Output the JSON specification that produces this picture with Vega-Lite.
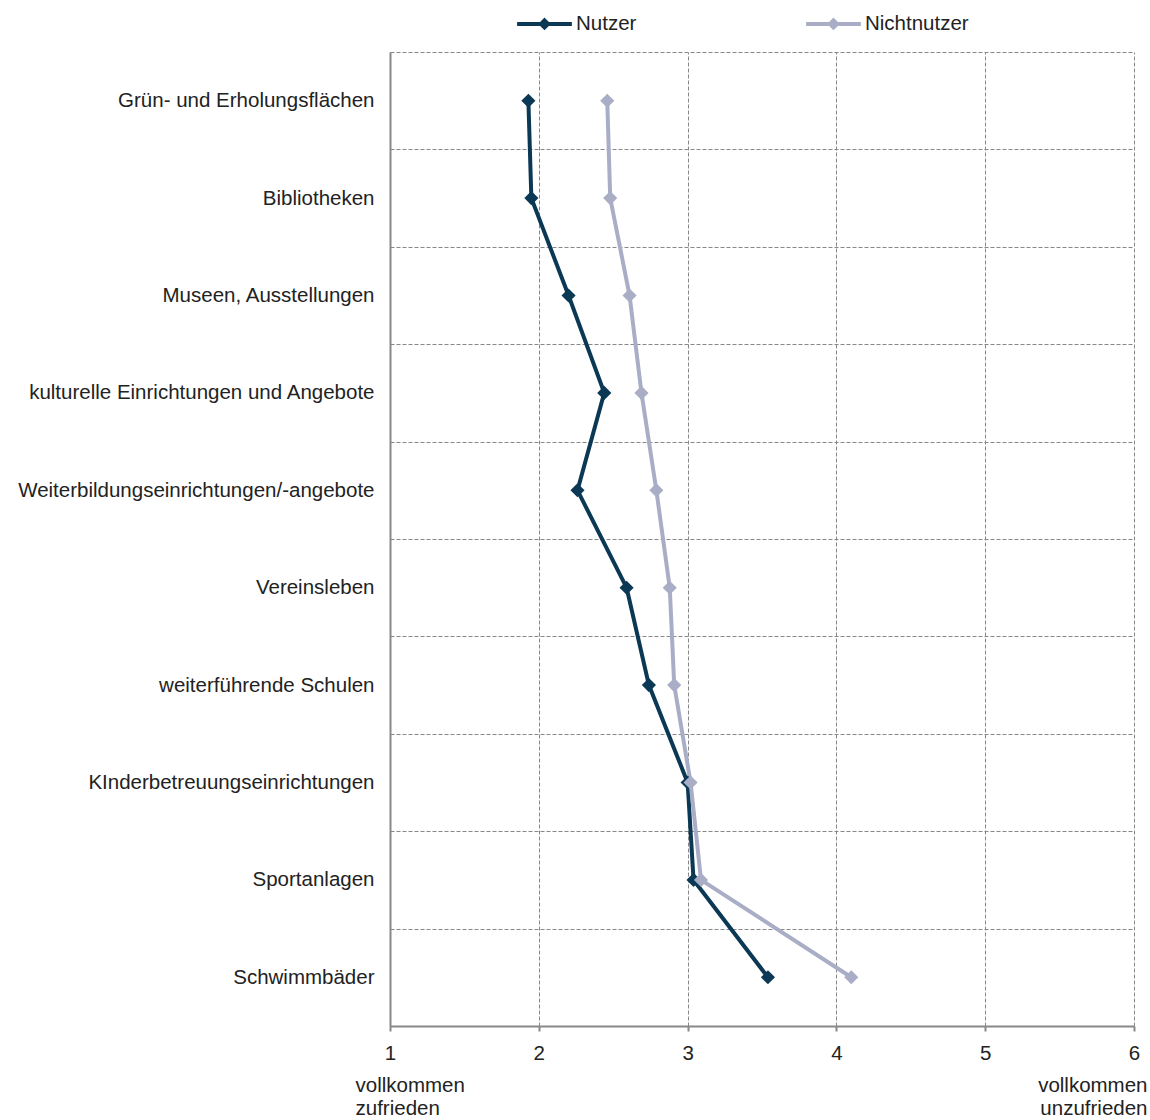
{
  "$schema": "https://vega.github.io/schema/vega-lite/v6.json",
  "autosize": "none",
  "width": 744,
  "height": 974,
  "padding": {"left": 390, "top": 52, "right": 16, "bottom": 94},
  "background": "white",
  "config": {
    "view": {"stroke": null},
    "font": "Liberation Sans",
    "axis": {"labelFont": "Liberation Sans", "labelFontSize": 20.5, "labelColor": "#222222", "titleFontSize": 20}
  },
  "data": {
    "values": [
      {"cat": "Grün- und Erholungsflächen", "i": 1, "group": "Nutzer", "value": 1.93},
      {"cat": "Bibliotheken", "i": 2, "group": "Nutzer", "value": 1.95},
      {"cat": "Museen, Ausstellungen", "i": 3, "group": "Nutzer", "value": 2.2},
      {"cat": "kulturelle Einrichtungen und Angebote", "i": 4, "group": "Nutzer", "value": 2.44},
      {"cat": "Weiterbildungseinrichtungen/-angebote", "i": 5, "group": "Nutzer", "value": 2.26},
      {"cat": "Vereinsleben", "i": 6, "group": "Nutzer", "value": 2.59},
      {"cat": "weiterführende Schulen", "i": 7, "group": "Nutzer", "value": 2.74},
      {"cat": "KInderbetreuungseinrichtungen", "i": 8, "group": "Nutzer", "value": 3.0},
      {"cat": "Sportanlagen", "i": 9, "group": "Nutzer", "value": 3.04},
      {"cat": "Schwimmbäder", "i": 10, "group": "Nutzer", "value": 3.54},
      {"cat": "Grün- und Erholungsflächen", "i": 1, "group": "Nichtnutzer", "value": 2.46},
      {"cat": "Bibliotheken", "i": 2, "group": "Nichtnutzer", "value": 2.48},
      {"cat": "Museen, Ausstellungen", "i": 3, "group": "Nichtnutzer", "value": 2.61},
      {"cat": "kulturelle Einrichtungen und Angebote", "i": 4, "group": "Nichtnutzer", "value": 2.69},
      {"cat": "Weiterbildungseinrichtungen/-angebote", "i": 5, "group": "Nichtnutzer", "value": 2.79},
      {"cat": "Vereinsleben", "i": 6, "group": "Nichtnutzer", "value": 2.88},
      {"cat": "weiterführende Schulen", "i": 7, "group": "Nichtnutzer", "value": 2.91},
      {"cat": "KInderbetreuungseinrichtungen", "i": 8, "group": "Nichtnutzer", "value": 3.02},
      {"cat": "Sportanlagen", "i": 9, "group": "Nichtnutzer", "value": 3.09},
      {"cat": "Schwimmbäder", "i": 10, "group": "Nichtnutzer", "value": 4.1}
    ]
  },
  "encoding": {
    "y": {
      "field": "cat", "type": "nominal",
      "sort": {"field": "i", "op": "min"},
      "axis": {
        "title": null,
        "ticks": false,
        "tickBand": "extent",
        "grid": true,
        "gridColor": "#888888",
        "gridDash": [4, 2],
        "gridWidth": 1,
        "domainColor": "#888888",
        "domainWidth": 2,
        "labelPadding": 16,
        "labelLimit": 400
      }
    },
    "color": {
      "field": "group", "type": "nominal",
      "scale": {"domain": ["Nutzer", "Nichtnutzer"], "range": ["#0b3955", "#a9aec6"]},
      "legend": {
        "title": null,
        "orient": "none",
        "direction": "horizontal",
        "legendX": 125,
        "legendY": -58,
        "symbolType": "M-1,0L1,0M0,-0.13L0.13,0L0,0.13L-0.13,0Z",
        "symbolSize": 3000,
        "symbolStrokeWidth": 4,
        "labelFont": "Liberation Sans",
        "labelFontSize": 20.5,
        "labelColor": "#222222",
        "labelOffset": 2,
        "columnPadding": 161,
        "encode": {"symbols": {"update": {"fill": {"scale": "color", "field": "value"}, "stroke": {"scale": "color", "field": "value"}}}}
      }
    }
  },
  "layer": [
    {
      "mark": {"type": "line", "strokeWidth": 4},
      "encoding": {
        "x": {
          "field": "value", "type": "quantitative",
          "scale": {"domain": [1, 6], "nice": false, "zero": false},
          "axis": {
            "title": null,
            "orient": "bottom",
            "values": [1, 2, 3, 4, 5, 6],
            "format": "d",
            "labelFlush": false,
            "grid": true,
            "gridColor": "#888888",
            "gridDash": [4, 2],
            "gridWidth": 1,
            "domainColor": "#888888",
            "domainWidth": 2,
            "tickColor": "#888888",
            "tickSize": 5,
            "tickWidth": 2,
            "labelPadding": 12
          }
        },
        "order": {"field": "i"}
      }
    },
    {
      "mark": {"type": "point", "shape": "diamond", "filled": true, "size": 200, "opacity": 1},
      "encoding": {
        "x": {
          "field": "value", "type": "quantitative",
          "scale": {"domain": [1, 6], "nice": false, "zero": false},
          "axis": {
            "title": null,
            "orient": "bottom",
            "values": [1, 6],
            "grid": false,
            "domain": false,
            "ticks": false,
            "labelFlush": false,
            "labelExpr": "datum.value == 1 ? ['vollkommen', 'zufrieden'] : ['vollkommen', 'unzufrieden']",
            "labelAlign": {"condition": {"test": "datum.value == 1", "value": "left"}, "value": "right"},
            "labelOffset": {"condition": {"test": "datum.value == 1", "value": -35}, "value": 13},
            "labelPadding": 49,
            "labelLineHeight": 23,
            "labelBaseline": "top",
            "labelOverlap": false
          }
        }
      }
    }
  ],
  "resolve": {"scale": {"x": "independent"}}
}
